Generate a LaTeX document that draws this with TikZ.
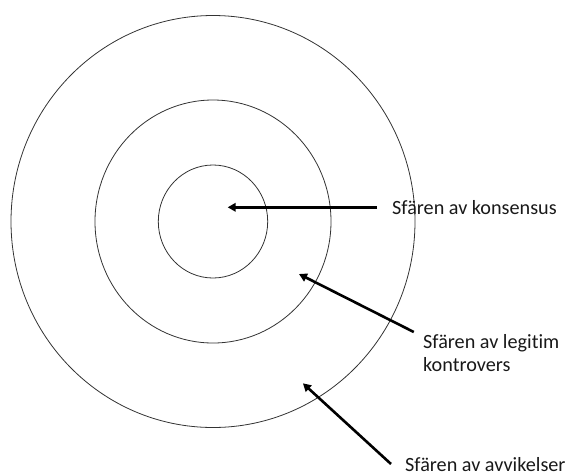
\documentclass[tikz,border=0pt]{standalone}
\usepackage{fontspec}
\setmainfont{Carlito}[Ligatures=NoCommon]
\usetikzlibrary{arrows.meta}
\begin{document}
\begin{tikzpicture}[x=1pt,y=-1pt,
  ring/.style={draw=black!80,line width=0.8pt},
  lbl/.style={inner sep=0pt,anchor=base west,font=\fontsize{20.2}{23.3}\selectfont,align=left,text=black!90},
  pointer/.style={line width=2.6pt,-{Triangle[length=8pt,width=8.5pt]}}]
\useasboundingbox (0,0) rectangle (566,475);
\coordinate (c) at (213,221.5);
\draw[ring] (c) ellipse [x radius=202, y radius=206];
\draw[ring] (c) ellipse [x radius=118, y radius=121.5];
\draw[ring] (c) ellipse [x radius=54.7, y radius=56.5];
\node[lbl] (k) at (392,214) {Sfären av konsensus};
\node[lbl] (l) at (423,371.3) {Sfären av legitim\\kontrovers};
\node[lbl] (a) at (405,471.5) {Sfären av avvikelser};
\coordinate (kt) at (377,207.3);
\coordinate (kh) at (227.7,207.3);
\coordinate (lt) at (413.8,332);
\coordinate (lh) at (299,274);
\coordinate (at) at (391,464);
\coordinate (ah) at (302.9,383.3);
\draw[pointer] (kt) -- (kh);
\draw[pointer] (lt) -- (lh);
\draw[pointer] (at) -- (ah);
\end{tikzpicture}
\end{document}
